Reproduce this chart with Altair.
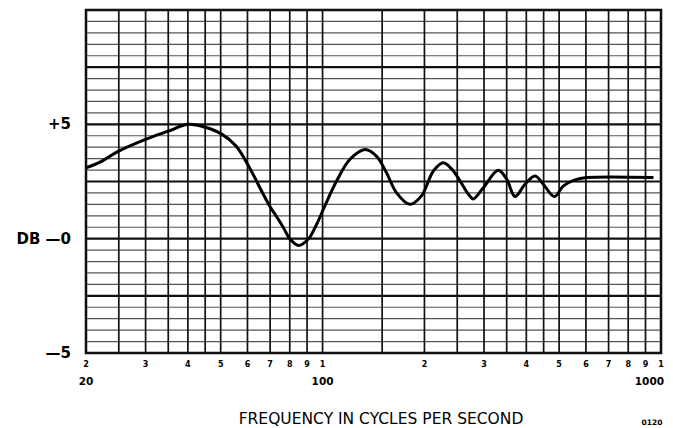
import altair as alt
import pandas as pd
import numpy as np

# Response curve (Hz, dB)
freq = [20, 22, 25, 30, 35, 40, 45, 50.5, 55.5, 60.5, 66.5, 70, 74, 76.5, 80, 85,
        90.5, 96, 101.5, 110, 120.5, 133.5, 144.5, 154.5, 165.5, 181, 196, 212.5,
        227.5, 243.5, 269.5, 279, 298.5, 330.5, 350, 370.5, 396.5, 424.5, 449, 484,
        515, 557, 603, 950]
db = [3.1, 3.35, 3.83, 4.34, 4.7, 5.0, 4.87, 4.56, 4.05, 3.17, 2.0, 1.4, 0.85, 0.5,
      0.0, -0.3, -0.04, 0.62, 1.42, 2.52, 3.47, 3.9, 3.6, 2.88, 2.0, 1.5, 1.87, 2.96,
      3.32, 2.96, 1.95, 1.74, 2.23, 2.99, 2.6, 1.84, 2.38, 2.74, 2.38, 1.84, 2.31,
      2.57, 2.67, 2.67]

# Grid
v_grid = [20, 25, 30, 35, 40, 45, 50, 60, 70, 80, 90, 100, 150, 200, 250, 300, 350,
          400, 450, 500, 600, 700, 800, 900, 1000]
h_major = [-5, -2.5, 0, 2.5, 5, 7.5, 10]
h_minor = [v for v in np.arange(-5, 10.01, 0.5) if abs((v / 2.5) - round(v / 2.5)) > 1e-6]

# Axis texts
digit_pos = [20, 30, 40, 50, 60, 70, 80, 90, 100, 200, 300, 400, 500, 600, 700, 800, 900, 1000]
digit_txt = ["2", "3", "4", "5", "6", "7", "8", "9", "1"] * 2
decade_pos = [20, 100, 1000]
decade_txt = ["20", "100", "1000"]
y_label_vals = [5, 0, -5]
y_label_txt = ["+5", "DB \u20140", "\u20145"]

W, H = 575, 343
xs = alt.Scale(type="log", domain=[20, 1000], nice=False)
ys = alt.Scale(domain=[-5, 10], nice=False, zero=False)
FONT = "DejaVu Sans"

vg = alt.Chart(pd.DataFrame({"f": v_grid})).mark_rule(color="#111", strokeWidth=1.7).encode(
    x=alt.X("f:Q", scale=xs, axis=None))
hmin = alt.Chart(pd.DataFrame({"v": h_minor})).mark_rule(color="#555", strokeWidth=1.2).encode(
    y=alt.Y("v:Q", scale=ys, axis=None))
hmaj = alt.Chart(pd.DataFrame({"v": h_major})).mark_rule(color="#111", strokeWidth=2.2).encode(
    y=alt.Y("v:Q", scale=ys, axis=None))

curve = alt.Chart(pd.DataFrame({"f": freq, "db": db})).mark_line(
    color="black", strokeWidth=3, interpolate="catmull-rom").encode(
    x=alt.X("f:Q", scale=xs, axis=None), y=alt.Y("db:Q", scale=ys, axis=None))

digits = alt.Chart(pd.DataFrame({"f": digit_pos, "t": digit_txt})).mark_text(
    font=FONT, fontWeight="bold", fontSize=8, baseline="middle", align="center").encode(
    x=alt.X("f:Q", scale=xs, axis=None), y=alt.value(H + 12), text="t:N")

dec_df = pd.DataFrame({"f": decade_pos, "t": decade_txt})
decades = alt.Chart(dec_df).transform_filter("datum.f < 1000").mark_text(
    font=FONT, fontWeight="bold", fontSize=10.5, baseline="middle", align="center").encode(
    x=alt.X("f:Q", scale=xs, axis=None), y=alt.value(H + 29), text="t:N")
decade_last = alt.Chart(dec_df).transform_filter("datum.f >= 1000").mark_text(
    font=FONT, fontWeight="bold", fontSize=10.5, baseline="middle", align="right", dx=3).encode(
    x=alt.X("f:Q", scale=xs, axis=None), y=alt.value(H + 29), text="t:N")

ylabels = alt.Chart(pd.DataFrame({"v": y_label_vals, "t": y_label_txt})).mark_text(
    font=FONT, fontWeight="bold", fontSize=15, baseline="middle", align="right").encode(
    y=alt.Y("v:Q", scale=ys, axis=None), x=alt.value(-15), text="t:N")

title = alt.Chart(pd.DataFrame({"t": ["FREQUENCY IN CYCLES PER SECOND"]})).mark_text(
    font=FONT, fontSize=15.5, baseline="alphabetic", align="center").encode(
    x=alt.value(295), y=alt.value(H + 71), text="t:N")

code = alt.Chart(pd.DataFrame({"t": ["0120"]})).mark_text(
    font=FONT, fontSize=7.5, fontWeight="bold", baseline="alphabetic", align="center").encode(
    x=alt.value(566), y=alt.value(H + 72), text="t:N")

chart = alt.layer(hmin, hmaj, vg, curve, digits, decades, decade_last, ylabels, title, code).properties(
    width=W, height=H,
    autosize=alt.AutoSizeParams(type="none"),
    padding={"left": 78, "top": 2, "right": 4, "bottom": 75},
    background="white",
).configure_view(stroke="black", strokeWidth=2.5)

chart.save("out.html", embed_options={"renderer": "svg", "actions": False})
